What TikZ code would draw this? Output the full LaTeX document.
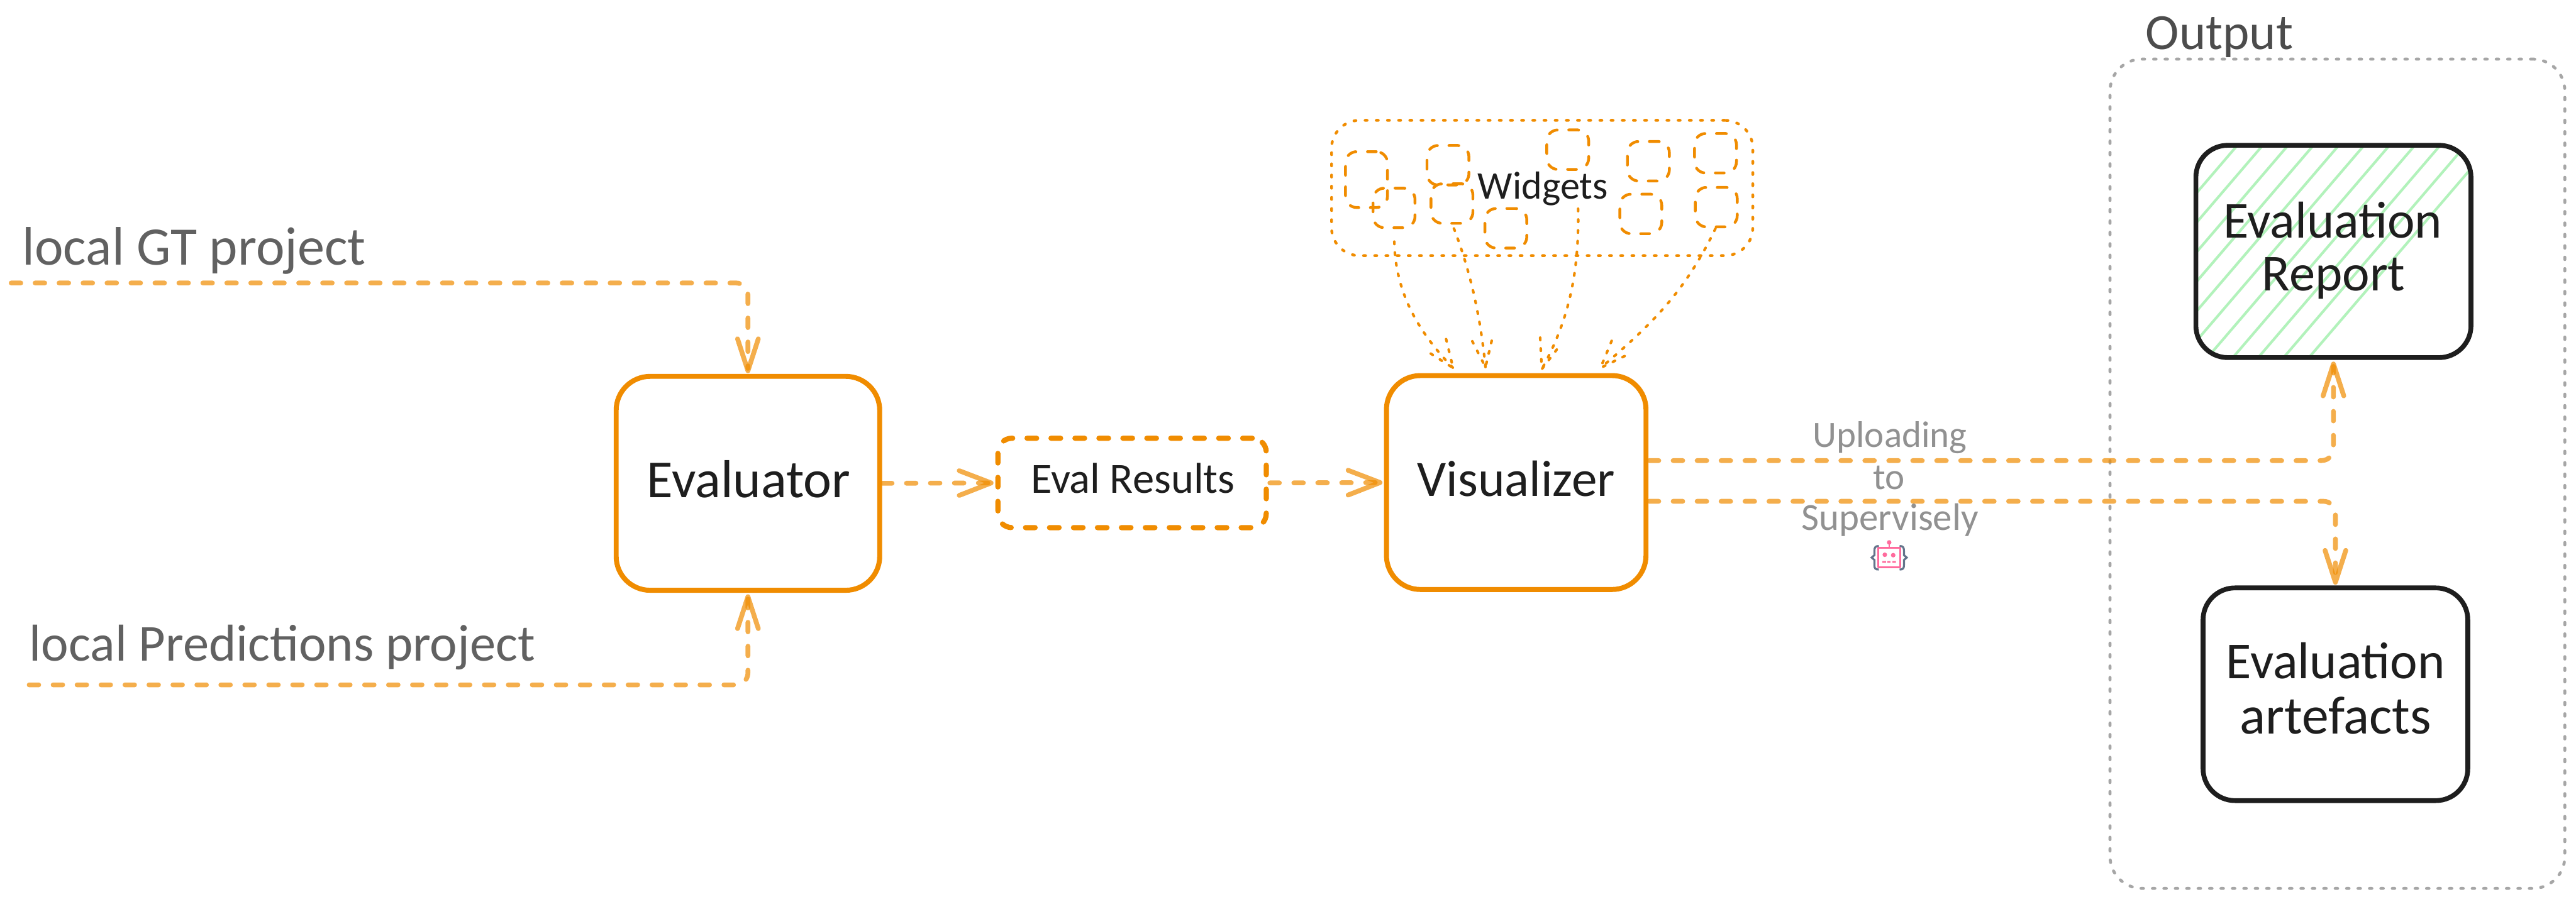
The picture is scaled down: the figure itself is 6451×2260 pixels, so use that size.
\documentclass[tikz,border=0pt]{standalone}
\usepackage{fontspec}
\setmainfont{Carlito}
\usetikzlibrary{arrows.meta,bending,calc}
\definecolor{orng}{HTML}{F08C00}
\definecolor{ink}{HTML}{1E1E1E}
\definecolor{hatch}{HTML}{B2F2BB}
\definecolor{robotpink}{HTML}{FF6B9D}
\definecolor{robotnavy}{HTML}{64748B}
\tikzset{
  x=0.1pt,y=-0.1pt,
  mainbox/.style={draw=orng,line width=1.25pt,rounded corners=8.5pt,inner sep=0pt,outer sep=0pt,fill=white,text=ink},
  blackbox/.style={draw=ink,line width=1.2pt,rounded corners=8pt,inner sep=0pt,outer sep=0pt,text=ink,align=center},
  resultbox/.style={draw=orng,line width=1.3pt,rounded corners=3.5pt,inner sep=0pt,outer sep=0pt,dash pattern=on 2.4pt off 3.6pt,line cap=round,text=ink},
  widgetbox/.style={draw=orng,line width=.7pt,rounded corners=2.8pt,inner sep=0pt,outer sep=0pt,dash pattern=on 2.2pt off 2.9pt,line cap=round,minimum width=10.5pt,minimum height=9.9pt},
  framebox/.style={draw=orng,line width=.7pt,rounded corners=7pt,inner sep=0pt,outer sep=0pt,dash pattern=on .5pt off 2.3pt,line cap=round},
  outbox/.style={draw=black!35,line width=.75pt,rounded corners=8pt,inner sep=0pt,outer sep=0pt,dash pattern=on .6pt off 2.26pt,line cap=round},
  flow/.style={draw=orng,draw opacity=.7,line width=1.2pt,dash pattern=on 2.4pt off 3.6pt,line cap=round,rounded corners=3pt},
  hhead/.style={-{Straight Barb[length=8pt,width=6.2pt,line width=1.2pt,round,flex'=1]}},
  vhead/.style={-{Straight Barb[length=8pt,width=5.2pt,line width=1.2pt,round,flex'=1]}},
  wdot/.style={draw=orng,line width=.65pt,dash pattern=on .6pt off 2.1pt,line cap=round},
  lab/.style={inner sep=0pt,outer sep=0pt,anchor=base,text=#1},
  lab/.default=ink,
}
\newcommand{\fs}[1]{\fontsize{#1}{#1}\selectfont}
\begin{document}
\begin{tikzpicture}
\useasboundingbox[fill=white] (0,0) rectangle (6451,2260);

% main boxes
\node[mainbox,minimum width=66pt,minimum height=53.6pt] (evaluator) at (1873,1211) {};
\node[mainbox,minimum width=65pt,minimum height=53.6pt] (visualizer) at (3797,1209) {};
\node[resultbox,minimum width=67.2pt,minimum height=22.4pt] (results) at (2835,1210) {};
\node[lab] (evaluatorT) at (1875,1246) {\fs{13.4}Evaluator};
\node[lab] (visualizerT) at (3797,1244) {\fs{12.8}Visualizer};
\node[lab] (resultsT) at (2837,1236) {\fs{10.8}Eval Results};

% widgets
\node[framebox,minimum width=105.5pt,minimum height=33.9pt] (wframe) at (3862,471) {};
\node[widgetbox,minimum height=14pt] (w1) at (3422,450) {};
\node[widgetbox] (w2) at (3491,521) {};
\node[widgetbox] (w3) at (3626,414) {};
\node[widgetbox] (w4) at (3636,510) {};
\node[widgetbox] (w5) at (3771,572) {};
\node[widgetbox] (w6) at (3926,375) {};
\node[widgetbox] (w7) at (4128,404) {};
\node[widgetbox] (w8) at (4109,536) {};
\node[widgetbox] (w9) at (4296,384) {};
\node[widgetbox] (w10) at (4298,519) {};
\node[lab] (widgetsT) at (3864,499) {\fs{9.8}Widgets};

\coordinate (wstart) at (3952,523);
\coordinate (ta) at (3639,922);
\coordinate (tb) at (3720,920);
\coordinate (tc) at (3861,925);
\coordinate (td) at (4008,922);
\draw[wdot,shorten <=3.5pt] (w2.south) .. controls (3494,720) and (3540,820) .. (ta);
\draw[wdot,shorten <=1.4pt] (w4.south) .. controls (3690,700) and (3710,820) .. (tb);
\draw[wdot] (wstart) .. controls (3955,680) and (3930,800) .. (tc);
\draw[wdot,shorten <=.5pt] (w10.south) .. controls (4220,730) and (4140,810) .. (td);
\draw[wdot] (3583,886) -- (ta) -- (3621,848);
\draw[wdot] (3687,855) -- (tb) -- (3737,848);
\draw[wdot] (3857,846) -- (tc) -- (3903,870);
\draw[wdot] (4036,854) -- (td) -- (4071,891);

% output
\node[outbox,minimum width=113.9pt,minimum height=207.8pt] (outframe) at (5853.5,1187) {};
\node[lab=black!70] (outputT) at (5558,123) {\fs{12.7}Output};
\begin{scope}
\clip[rounded corners=8pt] (5499,364) rectangle (6188,896);
\foreach \k in {-8,...,10}{
  \draw[hatch,line width=.65pt] ({5603+63.5*\k},364) -- ({5603+63.5*\k-456},896);
}
\end{scope}
\node[blackbox,minimum width=68.9pt,minimum height=53.2pt] (report) at (5843.5,630) {};
\node[blackbox,minimum width=66.3pt,minimum height=53.3pt] (artefacts) at (5848.5,1739.5) {};
\node[lab] (reportT1) at (5842,596) {\fs{13}Evaluation};
\node[lab] (reportT2) at (5844,728) {\fs{13}Report};
\node[lab] (artefactsT1) at (5849,1700) {\fs{13}Evaluation};
\node[lab] (artefactsT2) at (5849,1838) {\fs{13.5}artefacts};

% input labels
\node[lab=black!62,anchor=base west] (gtT) at (56,664) {\fs{13.6}local GT project};
\node[lab=black!62,anchor=base west] (predT) at (74,1656) {\fs{13}local Predictions project};
\coordinate (gtstart) at (28,709);
\coordinate (predstart) at (73,1716);
\coordinate (upy) at (4130,1154);
\coordinate (dny) at (4130,1256);

% connectors
\draw[flow,vhead,shorten >=.8pt] (gtstart) -| (evaluator.north);
\draw[flow,vhead,shorten >=1pt] (predstart) -| (evaluator.south);
\draw[flow,hhead,shorten <=.7pt,shorten >=1.1pt] (evaluator.east) -- (results.west);
\draw[flow,hhead,shorten <=.9pt,shorten >=1pt] (results.east) -- (visualizer.west);
\draw[flow,vhead,shorten >=1pt] (upy) -| (report.south);
\draw[flow,vhead,shorten >=.8pt] (dny) -| (artefacts.north);

% upload label
\node[lab=black!43] (upT1) at (4733,1120) {\fs{9.3}Uploading};
\node[lab=black!43] (upT2) at (4730,1226) {\fs{9.3}to};
\node[lab=black!43] (upT3) at (4733,1329) {\fs{9.6}Supervisely};

% robot icon
\begin{scope}
\draw[robotpink,line width=.4pt] (4731,1359) -- (4731,1373);
\fill[robotpink] (4731,1359) circle (.57pt);
\draw[robotpink,line width=.5pt,fill=white,line join=round] (4703,1373) rectangle (4759,1422);
\fill[robotpink] (4720,1390) circle (.57pt) (4741,1391) circle (.57pt);
\fill[robotpink] (4714,1406) rectangle (4723,1410) (4726,1406) rectangle (4734,1410) (4739,1406) rectangle (4748,1410);
\draw[robotnavy,line width=.5pt] (4705,1368) .. controls (4696,1368) and (4694,1372) .. (4694,1380) -- (4694,1391) -- (4687,1397) -- (4694,1403) -- (4694,1416) .. controls (4694,1424) and (4696,1427) .. (4705,1427);
\draw[robotnavy,line width=.5pt] (4757,1368) .. controls (4766,1368) and (4768,1372) .. (4768,1380) -- (4768,1391) -- (4775,1397) -- (4768,1403) -- (4768,1416) .. controls (4768,1424) and (4766,1427) .. (4757,1427);
\end{scope}
\end{tikzpicture}
\end{document}
